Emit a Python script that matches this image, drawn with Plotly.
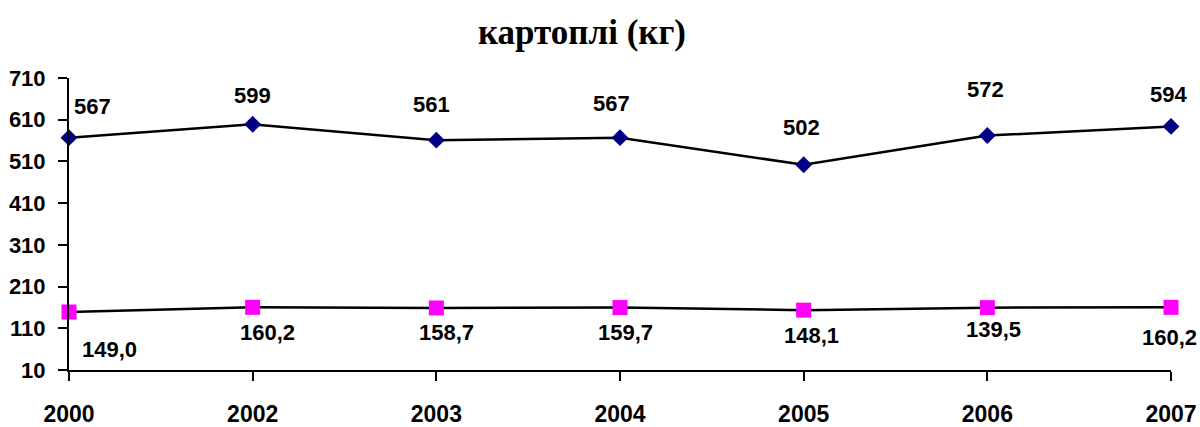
import plotly.graph_objects as go

years = ["2000", "2002", "2003", "2004", "2005", "2006", "2007"]
consumption = [567, 599, 561, 567, 502, 572, 594]
consumption_labels = ["567", "599", "561", "567", "502", "572", "594"]
norm_values = [149.0, 160.2, 158.7, 159.7, 153.5, 159.5, 160.2]
norm_labels = ["149,0", "160,2", "158,7", "159,7", "148,1", "139,5", "160,2"]
y_ticks = [10, 110, 210, 310, 410, 510, 610, 710]
title_text = "картоплі (кг)"

# label offsets in pixels (dx, dy up-positive)
top_offsets = [(23, 31), (0, 29), (-5, 36), (-9, 34), (-2, 37), (-2, 46), (-3, 32)]
low_offsets = [(40, -37), (15, -25), (10, -25), (5, -25), (8, -25), (6, -22), (-2, -30)]

FONT = "Liberation Sans, Arial, sans-serif"
W, H = 1200, 427

fig = go.Figure()
fig.add_trace(go.Scatter(
    x=years, y=consumption, mode="lines+markers",
    line=dict(color="black", width=2.5),
    marker=dict(symbol="diamond", size=13, color="#000080"),
    cliponaxis=False, showlegend=False,
))
fig.add_trace(go.Scatter(
    x=years, y=norm_values, mode="lines+markers",
    line=dict(color="black", width=2.5),
    marker=dict(symbol="square", size=15, color="#FF00FF"),
    cliponaxis=False, showlegend=False,
))

annotations = []
for i, (yv, t, (dx, dy)) in enumerate(zip(consumption, consumption_labels, top_offsets)):
    annotations.append(dict(x=i, y=yv, xref="x", yref="y", text=t, showarrow=False,
                            xshift=dx, yshift=dy,
                            font=dict(family=FONT, size=22, color="black", weight="bold")))
for i, (yv, t, (dx, dy)) in enumerate(zip(norm_values, norm_labels, low_offsets)):
    annotations.append(dict(x=i, y=yv, xref="x", yref="y", text=t, showarrow=False,
                            xshift=dx, yshift=dy,
                            font=dict(family=FONT, size=22, color="black", weight="bold")))

fig.update_layout(
    width=W, height=H,
    margin=dict(l=69, r=29, t=78, b=57, autoexpand=False),
    paper_bgcolor="white", plot_bgcolor="white",
    title=dict(text=title_text, x=582 / W, xanchor="center",
               y=1 - 32 / H, yanchor="middle", yref="container",
               font=dict(family="Liberation Serif, Times New Roman, serif", size=35,
                         color="black", weight="bold")),
    annotations=annotations,
    xaxis=dict(type="category", range=[0, 6], showgrid=False, zeroline=False,
               automargin=False,
               showline=True, linecolor="black", linewidth=2,
               ticks="outside", ticklen=9, tickwidth=2, tickcolor="black",
               ticklabelstandoff=13,
               tickfont=dict(family=FONT, size=23, color="black", weight="bold")),
    yaxis=dict(range=[10, 710], tickvals=y_ticks, showgrid=False, zeroline=False,
               automargin=False,
               showline=True, linecolor="black", linewidth=2,
               ticks="outside", ticklen=9, tickwidth=2, tickcolor="black",
               ticklabelstandoff=8,
               tickfont=dict(family=FONT, size=22, color="black", weight="bold")),
)

fig.write_html(
    "out.html",
    config={"displayModeBar": False},
    post_script="document.body.style.margin='0';document.body.style.overflow='hidden';",
)
